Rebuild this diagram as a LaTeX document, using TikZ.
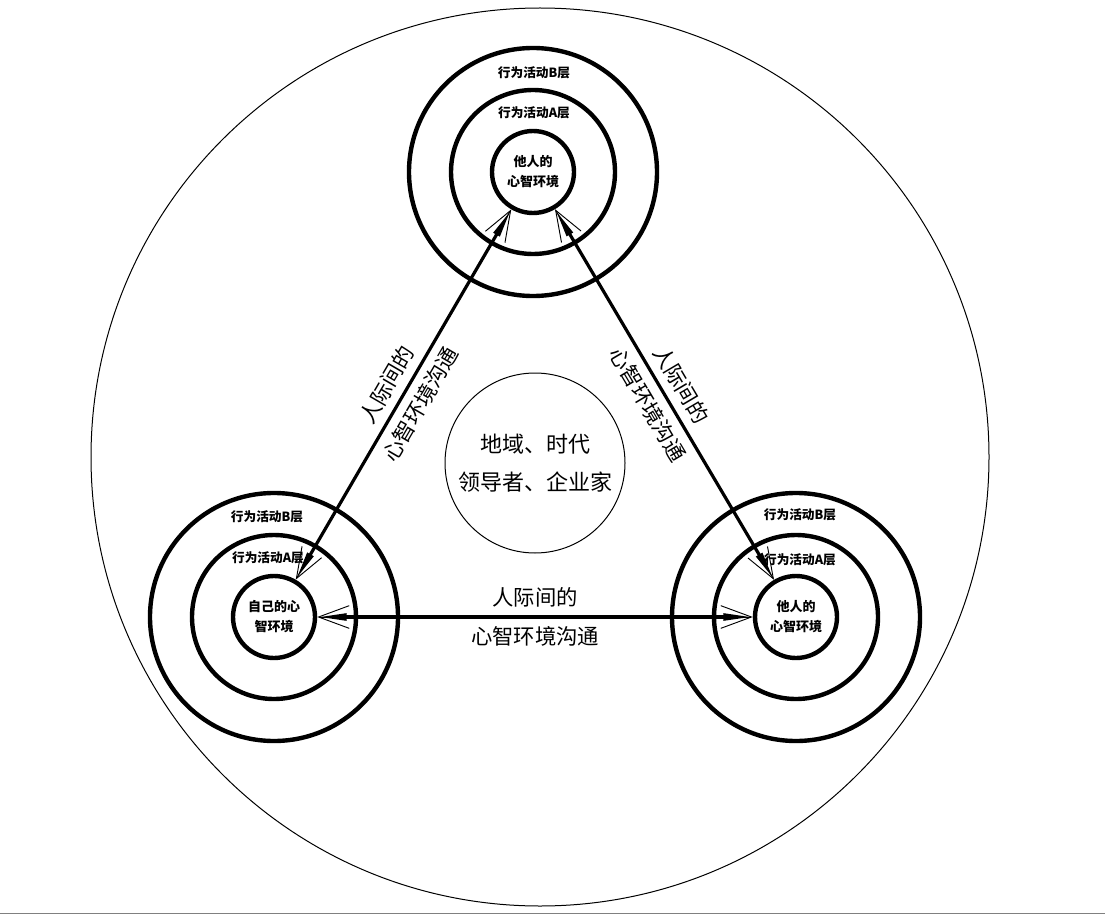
\documentclass[tikz,border=0pt]{standalone}
\usepackage{fontspec}
\setmainfont{Noto Sans CJK SC}
\usetikzlibrary{arrows.meta}
\begin{document}
\begin{tikzpicture}[x=0.75pt,y=-0.75pt,
  ring/.style={draw, circle, line width=3.3pt, inner sep=0pt},
  outerring/.style={ring, minimum size=186pt},
  midring/.style={ring, minimum size=123pt},
  innerring/.style={ring, minimum size=61.5pt, align=center,
     font=\bfseries\fontsize{9.75pt}{15pt}\selectfont},
  thinring/.style={draw, circle, line width=0.75pt, inner sep=0pt},
  layer/.style={font=\bfseries\fontsize{9.5pt}{12pt}\selectfont, inner sep=0pt},
  shaft/.style={line width=2.4pt,
     arrows={Triangle[length=22pt,width=5pt]-Triangle[length=22pt,width=5pt]}},
  barbs/.style={line width=0.7pt,
     arrows={Straight Barb[length=23pt,width=17pt,line width=0.7pt]-Straight Barb[length=23pt,width=17pt,line width=0.7pt]}},
  lab/.style={align=center, font=\fontsize{16pt}{29pt}\selectfont, inner sep=0pt}
]
\useasboundingbox (0,0) rectangle (1105,916);
% outer big circle
\node[thinring, minimum size=673.5pt] (big) at (540,457) {};
% centre circle
\node[thinring, minimum size=135pt, align=center,
      font=\fontsize{16.5pt}{28.5pt}\selectfont] (ctr) at (535,463) {地域、时代\\领导者、企业家};
% top cluster
\node[outerring] (tB) at (533,172) {};
\node[midring] (tA) at (533,172) {};
\node[innerring] (tin) at (533,172) {他人的\\心智环境};
\node[layer] (tBl) at (534,73) {行为活动B层};
\node[layer] (tAl) at (534,113) {行为活动A层};
% bottom-left cluster
\node[outerring] (lB) at (274,617) {};
\node[midring] (lA) at (274,617) {};
\node[innerring] (lin) at (274,617) {自己的心\\智环境};
\node[layer] (lBl) at (267,517) {行为活动B层};
\node[layer] (lAl) at (268,558) {行为活动A层};
% bottom-right cluster
\node[outerring] (rB) at (796,617) {};
\node[midring] (rA) at (796,617) {};
\node[innerring] (rin) at (796,617) {他人的\\心智环境};
\node[layer] (rBl) at (800,515) {行为活动B层};
\node[layer] (rAl) at (800,560) {行为活动A层};
% connectors
\draw[shaft] (lin) -- node[lab, sloped] (labL) {人际间的\\心智环境沟通} (tin);
\draw[barbs] (lin) -- (tin);
\draw[shaft] (tin) -- node[lab, sloped] (labR) {人际间的\\心智环境沟通} (rin);
\draw[barbs] (tin) -- (rin);
\draw[shaft] (lin) -- node[lab] (labH) {人际间的\\心智环境沟通} (rin);
\draw[barbs] (lin) -- (rin);
% bottom rule
\draw[gray, line width=0.75pt] (0,913) -- (1105,913);
\end{tikzpicture}
\end{document}
